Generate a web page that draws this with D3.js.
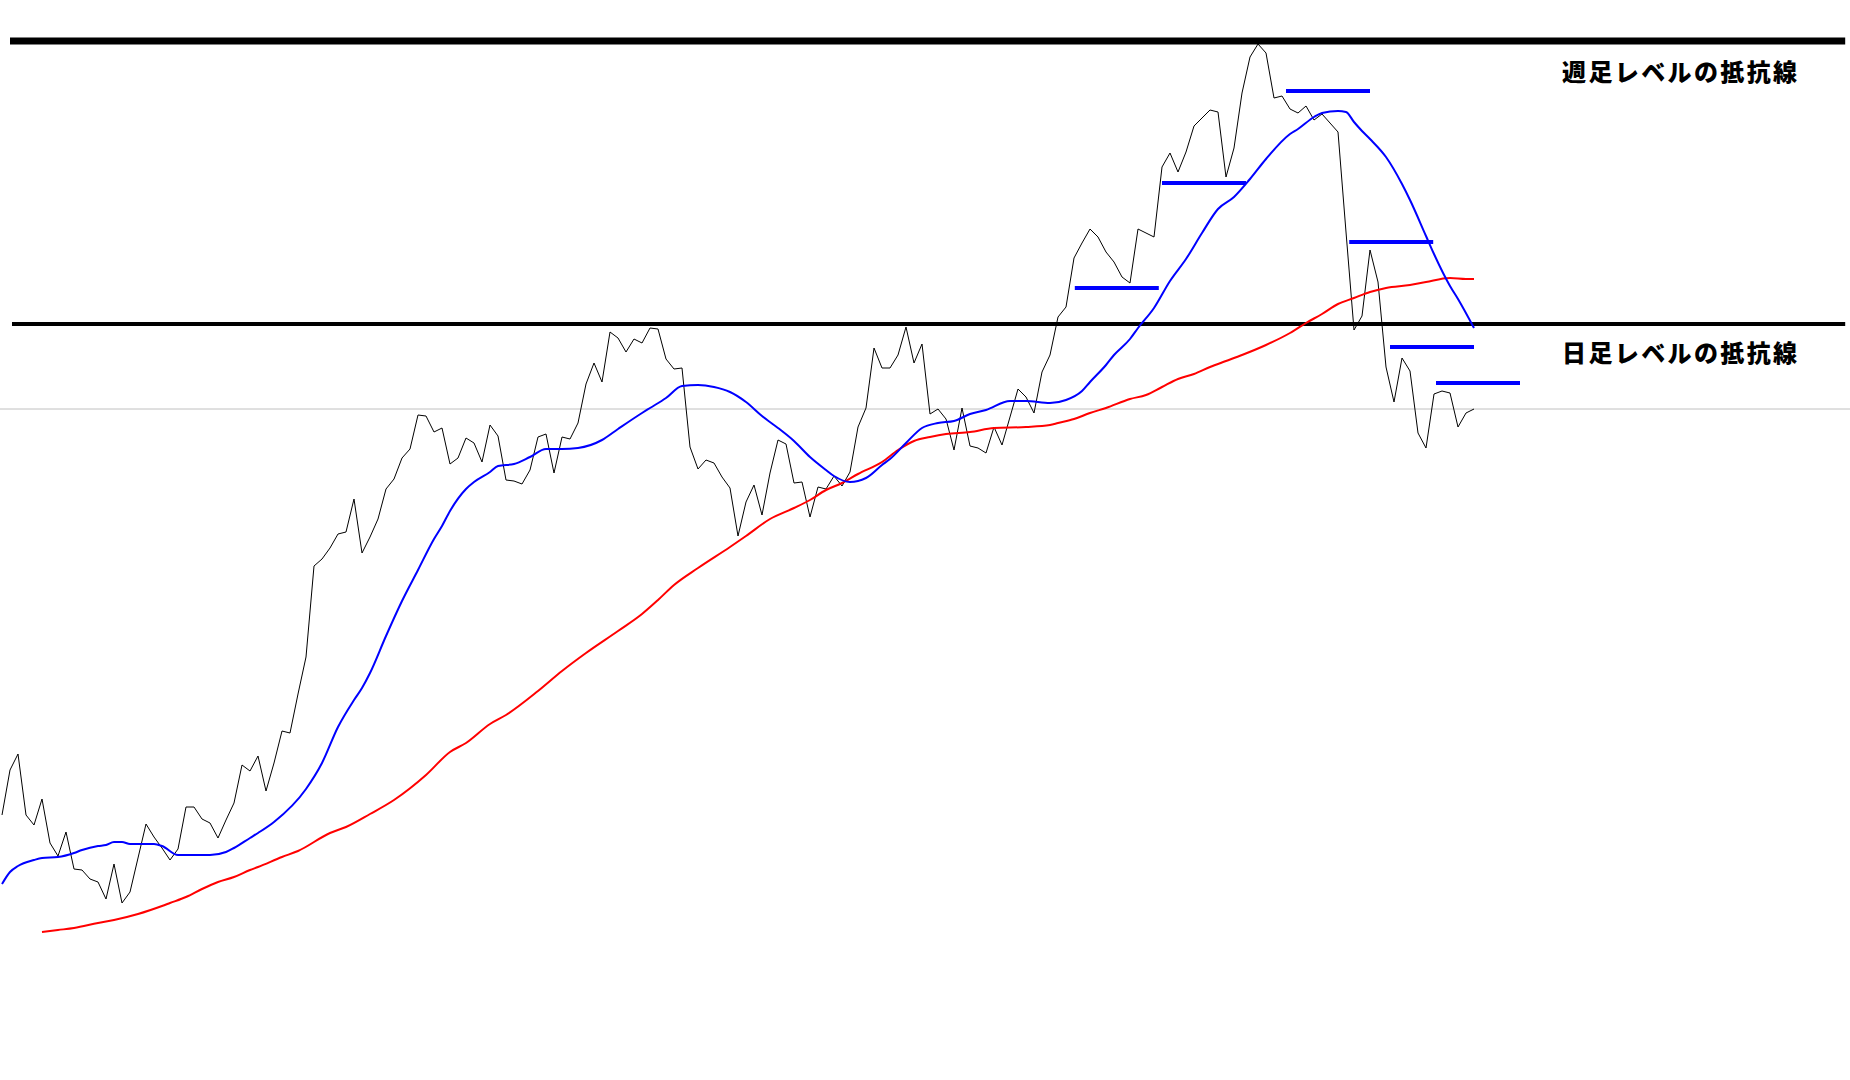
<!DOCTYPE html>
<html>
<head>
<meta charset="utf-8">
<script src="https://cdn.jsdelivr.net/npm/d3@7"></script>
<style>
  html, body { margin: 0; padding: 0; background: #ffffff; }
  svg { display: block; }
</style>
</head>
<body>
<div id="chart"></div>
<script>
// ---- Data (prices, one close per bar) ----
const closes = [
  101.85,102.30,102.46,101.85,101.75,102.01,101.57,101.44,101.68,101.31,
  101.30,101.21,101.18,101.01,101.36,100.97,101.08,101.42,101.76,101.63,
  101.52,101.40,101.51,101.93,101.93,101.81,101.77,101.62,101.80,101.97,
  102.35,102.29,102.44,102.09,102.37,102.69,102.67,103.06,103.43,104.34,
  104.41,104.52,104.66,104.68,105.01,104.47,104.63,104.81,105.11,105.21,
  105.42,105.51,105.85,105.84,105.68,105.72,105.36,105.42,105.62,105.57,
  105.38,105.75,105.64,105.20,105.19,105.16,105.30,105.63,105.66,105.27,
  105.63,105.61,105.77,106.16,106.37,106.18,106.68,106.62,106.48,106.61,
  106.57,106.72,106.71,106.41,106.31,106.32,105.53,105.31,105.40,105.37,
  105.23,105.12,104.64,104.98,105.15,104.85,105.27,105.60,105.56,105.17,
  105.18,104.83,105.13,105.11,105.24,105.14,105.28,105.73,105.92,106.52,
  106.32,106.32,106.45,106.73,106.37,106.56,105.86,105.91,105.81,105.50,
  105.92,105.54,105.52,105.47,105.73,105.55,105.83,106.11,106.03,105.87,
  106.28,106.45,106.83,106.93,107.42,107.57,107.71,107.63,107.48,107.38,
  107.23,107.17,107.71,107.67,107.63,108.33,108.47,108.28,108.48,108.74,
  108.82,108.90,108.88,108.23,108.52,109.07,109.43,109.56,109.47,109.02,
  109.04,108.91,108.87,108.94,108.80,108.86,108.77,108.68,107.68,106.70,
  106.84,107.50,107.18,106.33,105.98,106.42,106.29,105.67,105.52,106.06,
  106.09,106.07,105.73,105.87,105.91
];

// Short moving average (blue), sampled at bar indices
const maShortIdx = [0,1,2,4,5,7,9,10,12,13,14,15,16,19,20,22,26,28,29,31,32,34,38,40,42,44,45,46,48,50,52,54,55,56,58,59,61,62,64,66,68,70,72,75,77,80,81,83,85,87,89,91,93,95,97,99,101,103,104,106,108,110,111,113,115,117,119,121,123,126,128,131,133,135,136,138,139,141,142,144,146,148,150,152,154,156,158,161,162,164,165,167,168,169,170,171,173,175,176,178,179,181,182,184];
const maShortVal = [101.16,101.28,101.34,101.40,101.42,101.43,101.47,101.50,101.54,101.55,101.58,101.58,101.56,101.56,101.54,101.45,101.45,101.48,101.52,101.62,101.67,101.78,102.11,102.37,102.73,103.00,103.12,103.27,103.64,103.99,104.30,104.61,104.74,104.89,105.11,105.18,105.28,105.34,105.36,105.43,105.51,105.51,105.52,105.60,105.71,105.87,105.92,106.02,106.14,106.15,106.13,106.08,105.98,105.84,105.72,105.59,105.43,105.30,105.24,105.18,105.22,105.35,105.41,105.57,105.72,105.77,105.79,105.86,105.90,105.99,105.99,105.97,106.00,106.09,106.18,106.35,106.45,106.61,106.72,106.92,107.19,107.41,107.67,107.91,108.03,108.21,108.41,108.66,108.71,108.83,108.87,108.89,108.88,108.78,108.69,108.61,108.43,108.16,108.00,107.64,107.46,107.14,107.01,106.72];

// Long moving average (red), sampled at bar indices
const maLongIdx = [5,7,9,12,14,17,20,21,23,25,27,29,31,32,35,37,41,43,46,49,53,56,58,61,63,67,70,73,77,80,82,84,87,91,93,96,99,101,103,105,107,110,112,114,116,118,121,124,128,131,132,134,136,138,141,143,145,147,149,151,153,155,158,161,163,165,167,169,171,173,176,178,181,183,184];
const maLongVal = [100.68,100.70,100.72,100.77,100.80,100.86,100.94,100.97,101.03,101.11,101.18,101.23,101.30,101.33,101.43,101.49,101.67,101.73,101.86,102.00,102.25,102.48,102.57,102.76,102.85,103.09,103.29,103.47,103.69,103.86,104.00,104.15,104.32,104.53,104.64,104.81,104.92,105.00,105.10,105.17,105.26,105.38,105.50,105.59,105.63,105.66,105.68,105.72,105.73,105.75,105.77,105.81,105.87,105.92,106.01,106.05,106.13,106.21,106.26,106.33,106.39,106.45,106.55,106.67,106.77,106.86,106.96,107.02,107.08,107.12,107.15,107.18,107.22,107.21,107.21];

// Horizontal resistance levels (price, start bar, end bar)
const levelPrices = [109.59, 106.76];
const levelStart  = [1, 1.25];
const levelEnd    = [230.4, 230.4];
const levelLabels = ["週足レベルの抵抗線", "日足レベルの抵抗線"];

// Short blue resistance segments (price, start bar, end bar)
const segPrices = [109.09, 108.17, 107.12, 107.58, 106.53, 106.17];
const segStart  = [160.5, 145.0, 134.1, 168.4, 173.5, 179.25];
const segEnd    = [171.0, 155.5, 144.6, 178.9, 184.0, 189.75];

// Current price line
const currentPrice = 105.91;

// ---- Drawing ----
const W = 1850, H = 1080;
const svg = d3.select("#chart").append("svg")
  .attr("width", W).attr("height", H)
  .style("background", "#ffffff");

const x = d3.scaleLinear().domain([0, closes.length - 1]).range([2, 1474]);
const y = d3.scaleLinear().domain([110, 99.2]).range([0, 1080]);

// current price (grey) line
svg.append("line")
  .attr("x1", 0).attr("x2", W)
  .attr("y1", y(currentPrice)).attr("y2", y(currentPrice))
  .attr("stroke", "#c0c0c0").attr("stroke-width", 1);

// resistance levels
const levelWidths = [7, 4];
levelPrices.forEach((p, k) => {
  svg.append("line")
    .attr("x1", x(levelStart[k])).attr("x2", x(levelEnd[k]))
    .attr("y1", y(p)).attr("y2", y(p))
    .attr("stroke", "#000").attr("stroke-width", levelWidths[k]);
});

// price line
const priceLine = d3.line().x((d, i) => x(i)).y(d => y(d));
svg.append("path").datum(closes)
  .attr("d", priceLine)
  .attr("fill", "none").attr("stroke", "#000").attr("stroke-width", 1);

// moving averages
const maLine = d3.line().x(d => x(d[0])).y(d => y(d[1])).curve(d3.curveMonotoneX);
svg.append("path").datum(maLongIdx.map((v, i) => [v, maLongVal[i]]))
  .attr("d", maLine).attr("fill", "none")
  .attr("stroke", "#ff0000").attr("stroke-width", 2);
svg.append("path").datum(maShortIdx.map((v, i) => [v, maShortVal[i]]))
  .attr("d", maLine).attr("fill", "none")
  .attr("stroke", "#0000ff").attr("stroke-width", 2);

// blue segments
segPrices.forEach((p, k) => {
  svg.append("line")
    .attr("x1", x(segStart[k])).attr("x2", x(segEnd[k]))
    .attr("y1", y(p)).attr("y2", y(p))
    .attr("stroke", "#0000ff").attr("stroke-width", 4);
});

// labels
const labelOffsets = [29, 27];
levelLabels.forEach((t, k) => {
  svg.append("text")
    .attr("x", 1562)
    .attr("y", y(levelPrices[k]) + labelOffsets[k])
    .attr("dominant-baseline", "central")
    .attr("font-family", "'Noto Sans CJK JP', sans-serif")
    .attr("font-weight", "900")
    .attr("font-size", 24)
    .attr("textLength", 235)
    .attr("lengthAdjust", "spacing")
    .attr("fill", "#000")
    .text(t);
});
</script>
</body>
</html>
